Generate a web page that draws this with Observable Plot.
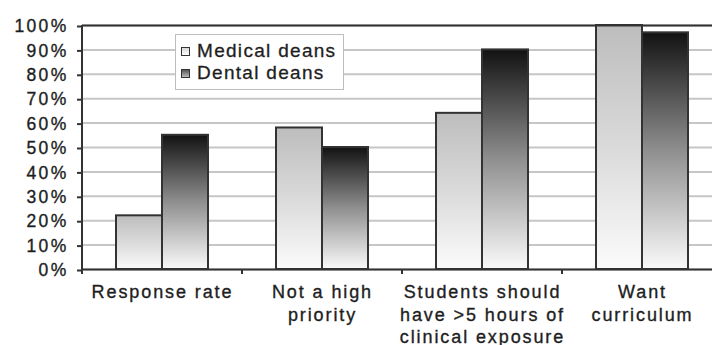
<!DOCTYPE html>
<html><head><meta charset="utf-8">
<script src="https://cdn.jsdelivr.net/npm/d3@7"></script>
<script src="https://cdn.jsdelivr.net/npm/@observablehq/plot@0.6"></script>
<style>
html,body{margin:0;padding:0;background:#fff;overflow:hidden}
#chart{position:relative;width:712px;height:345px;overflow:hidden;font-family:"Liberation Sans",Arial,sans-serif;color:#222;background:#fff}
#legend{position:absolute;left:175px;top:34px;width:169px;height:56px;border:1px solid #bdbdbd;background:#fff;box-sizing:border-box}
.item{position:absolute;left:5px;height:22px;line-height:22px;font-size:19px;letter-spacing:1.3px;white-space:nowrap;color:#1e1e1e;-webkit-text-stroke:0.3px #1e1e1e}
.sw{display:inline-block;width:7px;height:7px;border:1.5px solid #333;margin-right:7px;vertical-align:1px;-webkit-text-stroke:0}
</style>
</head><body>
<svg width="0" height="0" style="position:absolute">
<defs>
<linearGradient id="gMed" x1="0" y1="0" x2="0" y2="1"><stop offset="0" stop-color="#bdbdbd"/><stop offset="0.5" stop-color="#dadada"/><stop offset="1" stop-color="#fbfbfb"/></linearGradient>
<linearGradient id="gDen" x1="0" y1="0" x2="0" y2="1"><stop offset="0" stop-color="#121212"/><stop offset="0.5" stop-color="#8f8f8f"/><stop offset="1" stop-color="#fafafa"/></linearGradient>
</defs>
</svg>
<div id="chart"></div>
<script>
const categories = ["Response rate", "Not a high priority", "Students should have >5 hours of clinical exposure", "Want curriculum"];
const categoryLabels = ["Response rate", "Not a high\npriority", "Students should\nhave >5 hours of\nclinical exposure", "Want\ncurriculum"];
const series = ["Medical deans", "Dental deans"];
const medical = [22, 58, 64, 100];
const dental = [55, 50, 90, 97];
const yTicks = [0, 10, 20, 30, 40, 50, 60, 70, 80, 90, 100];

const rows = [];
categories.forEach((c, i) => {
  rows.push({category: c, series: series[0], value: medical[i]});
  rows.push({category: c, series: series[1], value: dental[i]});
});

const plot = Plot.plot({
  width: 712,
  height: 345,
  marginLeft: 81,
  marginRight: -11,
  marginTop: 25,
  marginBottom: 76,
  style: {fontFamily: "'Liberation Sans', Arial, sans-serif", color: "#222", background: "transparent"},
  fx: {domain: categories, padding: 0, axis: null},
  x: {domain: series, paddingInner: 0, paddingOuter: 0.72, axis: null},
  y: {domain: [0, 100], axis: null},
  marks: [
    Plot.gridY(yTicks, {stroke: "#c6c6c6", strokeWidth: 2, strokeOpacity: 1}),
    Plot.barY(rows.filter(d => d.series === series[0]), {fx: "category", x: "series", y: "value", fill: "url(#gMed)", stroke: "#333", strokeWidth: 2}),
    Plot.barY(rows.filter(d => d.series === series[1]), {fx: "category", x: "series", y: "value", fill: "url(#gDen)", stroke: "#333", strokeWidth: 2}),
    Plot.ruleY([0, 100], {stroke: "#333", strokeWidth: 2}),
    Plot.axisY(yTicks, {tickFormat: d => d + "%", tickSize: 5, tickPadding: 9, stroke: "#333", strokeWidth: 2, fontSize: 17.5, fill: "#1e1e1e", dy: 1, label: null}),
    Plot.text(categories, {fx: d => d, text: (d, i) => categoryLabels[i], frameAnchor: "bottom", lineAnchor: "top", dy: 13, lineHeight: 1.25, fontSize: 18, fill: "#1e1e1e"})
  ]
});

// axis line and category boundary ticks from the library's scales
const fxs = plot.scale("fx"), ys = plot.scale("y");
const svg = d3.select(plot);
svg.selectAll("text")
  .style("letter-spacing", function() { return this.closest("[aria-label='y-axis tick label']") ? "2.3px" : "1.9px"; })
  .style("stroke", "#1e1e1e").style("stroke-width", "0.35px");
const g = svg.append("g").attr("stroke", "#333").attr("stroke-width", 2);
const yTop = ys.apply(100), yBot = ys.apply(0);
const x0 = fxs.apply(categories[0]);
g.append("line").attr("x1", x0).attr("x2", x0).attr("y1", yTop).attr("y2", yBot + 5);
categories.forEach(c => {
  const xc = fxs.apply(c);
  g.append("line").attr("x1", xc).attr("x2", xc).attr("y1", yBot).attr("y2", yBot + 5);
});

const chart = document.getElementById("chart");
chart.appendChild(plot);
const legend = document.createElement("div");
legend.id = "legend";
legend.innerHTML =
  `<div class="item" style="top:5px"><span class="sw" style="background:linear-gradient(#d8d8d8,#fff)"></span>${series[0]}</div>` +
  `<div class="item" style="top:27px"><span class="sw" style="background:linear-gradient(#555,#bbb)"></span>${series[1]}</div>`;
chart.appendChild(legend);
</script>
</body></html>
